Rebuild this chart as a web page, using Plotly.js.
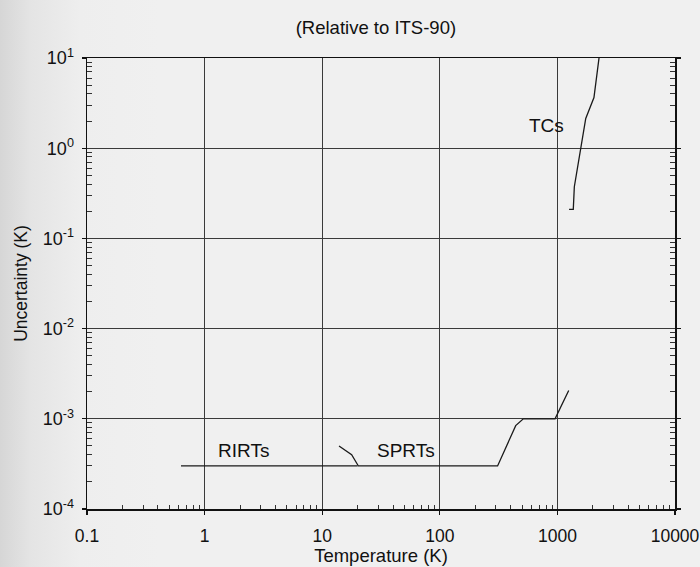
<!DOCTYPE html>
<html>
<head>
<meta charset="utf-8">
<script src="https://cdn.plot.ly/plotly-3.0.1.min.js"></script>
<style>
html,body{margin:0;padding:0;background:#efefef;}
#chart{background:linear-gradient(to right,#d6d6d6 0px,#e4e4e4 30px,#eeeeee 80px,#f0f0f0 160px,#f0f0f0 100%);}
</style>
</head>
<body>
<div id="chart" style="width:700px;height:567px;"></div>
<script>
// Data
const rirtT = [0.63, 20];
const rirtU = [3.0e-4, 3.0e-4];
const sprtT = [13.9, 17.8, 20.3, 310, 442, 513, 955, 1248];
const sprtU = [5.0e-4, 4.0e-4, 3.0e-4, 3.0e-4, 8.4e-4, 1.0e-3, 1.0e-3, 2.06e-3];
const tcT = [1257, 1365, 1393, 1742, 2046, 2259];
const tcU = [0.21, 0.21, 0.374, 2.14, 3.65, 10];
const xTickVals = [0.1, 1, 10, 100, 1000, 10000];
const xTickText = ["0.1", "1", "10", "100", "1000", "10000"];
const yTickVals = [1e-4, 1e-3, 1e-2, 1e-1, 1, 10];
const yTickText = ["10<sup>-4</sup>", "10<sup>-3</sup>", "10<sup>-2</sup>", "10<sup>-1</sup>", "10<sup>0</sup>", "10<sup>1</sup>"];
const labelText = ["RIRTs", "SPRTs", "TCs"];
const labelT = [2.13, 51.6, 800];
const labelU = [4.4e-4, 4.4e-4, 1.8];

// minor tick positions (2..9 within each decade)
function minorTicks(lo, hi) {
  const out = [];
  for (let e = lo; e < hi; e++) for (let m = 2; m <= 9; m++) out.push(m * Math.pow(10, e));
  return out;
}

const lineStyle = {color: "#1a1a1a", width: 1.3};
const traces = [
  {x: rirtT, y: rirtU, mode: "lines", line: lineStyle, name: "RIRTs"},
  {x: sprtT, y: sprtU, mode: "lines", line: lineStyle, name: "SPRTs"},
  {x: tcT, y: tcU, mode: "lines", line: lineStyle, name: "TCs"}
];

const fam = "Liberation Sans, Arial, Helvetica, sans-serif";
const f = s => ({family: fam, size: s, color: "#111"});
const axisCommon = {
  type: "log",
  showline: true,
  linecolor: "#111",
  linewidth: 1.5,
  showgrid: true,
  gridcolor: "#3a3a3a",
  gridwidth: 1,
  zeroline: false,
  ticks: "outside",
  ticklen: 4,
  tickwidth: 1.2,
  tickcolor: "#111",
  tickmode: "array"
};

const layout = {
  width: 700, height: 567,
  paper_bgcolor: "rgba(0,0,0,0)",
  plot_bgcolor: "rgba(0,0,0,0)",
  margin: {l: 87, r: 25, t: 58, b: 58},
  showlegend: false,
  font: f(18),
  title: {text: "(Relative to ITS-90)", font: f(18.5), xref: "container", x: 0.537, xanchor: "center", yref: "container", y: 0.952, yanchor: "middle"},
  xaxis: Object.assign({}, axisCommon, {
    range: [-1, 4],
    tickvals: xTickVals, ticktext: xTickText,
    tickfont: f(17.5),
    ticklabelstandoff: 6,
    mirror: true,
    minor: {tickmode: "array", tickvals: minorTicks(-1, 4), ticks: "inside", ticklen: 4, tickwidth: 1, tickcolor: "#333", showgrid: false},
    title: {text: "Temperature (K)", font: f(18.5), standoff: 2}
  }),
  yaxis: Object.assign({}, axisCommon, {
    range: [-4, 1],
    tickvals: yTickVals, ticktext: yTickText,
    tickfont: f(18),
    ticklabelstandoff: 4,
    mirror: "ticks",
    minor: {tickmode: "array", tickvals: minorTicks(-4, 1), ticks: "inside", ticklen: 5, tickwidth: 1, tickcolor: "#333", showgrid: false},
    title: {text: "Uncertainty (K)", font: f(17.5), standoff: 10}
  }),
  annotations: labelText.map((t, i) => ({
    x: Math.log10(labelT[i]), y: Math.log10(labelU[i]), xref: "x", yref: "y",
    text: t, showarrow: false, font: f(19)
  }))
};

Plotly.newPlot("chart", traces, layout, {displayModeBar: false, staticPlot: true});
</script>
</body>
</html>
